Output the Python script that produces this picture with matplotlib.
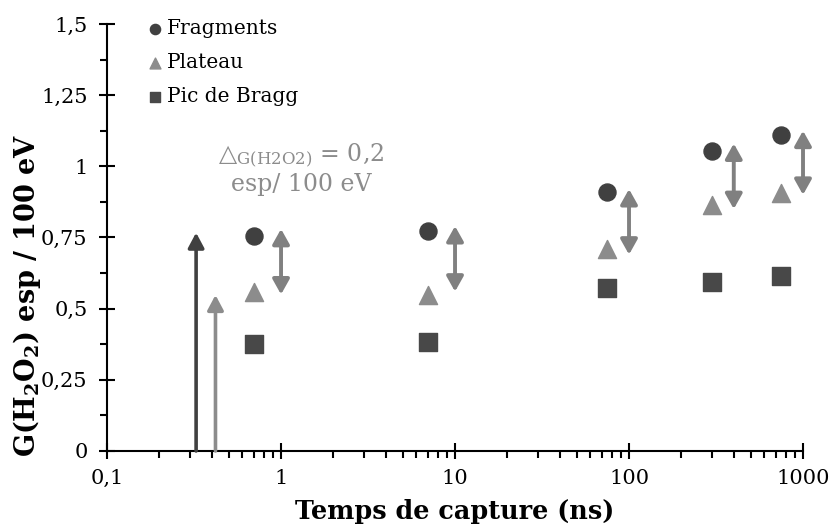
import numpy as np
import matplotlib
matplotlib.use("Agg")
import matplotlib.pyplot as plt
from matplotlib.ticker import FixedLocator, NullFormatter

plt.rcParams['font.family'] = ['DejaVu Serif', 'DejaVu Sans']
plt.rcParams['mathtext.fontset'] = 'dejavuserif'

# data
capture_ns = [0.7, 7, 75, 300, 750]
fragments = [0.755, 0.774, 0.911, 1.055, 1.11]
plateau = [0.557, 0.548, 0.708, 0.863, 0.907]
bragg = [0.375, 0.384, 0.574, 0.594, 0.615]

# double arrows (delta = 0.2 esp / 100 eV)
delta_x = [1, 10, 100, 400, 1000]
delta_low = [0.55, 0.56, 0.69, 0.85, 0.90]
delta_high = [0.78, 0.79, 0.92, 1.08, 1.125]

# single arrows near the y axis
vert_x = [0.325, 0.42]
vert_top = [0.767, 0.548]
vert_col = ['#404040', '#8c8c8c']

y_ticks = [0, 0.25, 0.5, 0.75, 1, 1.25, 1.5]
y_labels = ['0', '0,25', '0,5', '0,75', '1', '1,25', '1,5']
x_ticks = [0.1, 1, 10, 100, 1000]
x_labels = ['0,1', '1', '10', '100', '1000']

fig = plt.figure(figsize=(8.33, 5.31), dpi=100)
ax = fig.add_axes([0.1285, 0.1507, 0.8355, 0.8041])

ax.set_xscale('log')
ax.set_xlim(0.1, 1000)
ax.set_ylim(0, 1.5)

ax.scatter(capture_ns, fragments, marker='o', s=150, color='#404040', label='Fragments', zorder=3)
ax.scatter(capture_ns, plateau, marker='^', s=170, color='#8c8c8c', label='Plateau', zorder=3)
ax.scatter(capture_ns, bragg, marker='s', s=160, color='#484848', label='Pic de Bragg', zorder=3)

for x, lo, hi in zip(delta_x, delta_low, delta_high):
    ax.annotate('', xy=(x, hi), xytext=(x, lo),
                arrowprops=dict(arrowstyle='<|-|>,head_length=0.75,head_width=0.42',
                                lw=2.8, color='#808080', shrinkA=0, shrinkB=0,
                                mutation_scale=12))

for x, top, c in zip(vert_x, vert_top, vert_col):
    ax.annotate('', xy=(x, top), xytext=(x, 0),
                arrowprops=dict(arrowstyle='-|>,head_length=0.75,head_width=0.4',
                                lw=2.6, color=c, shrinkA=0, shrinkB=0,
                                mutation_scale=12))

ax.text(1.3, 0.99, '△$_{\\mathregular{G(H2O2)}}$ = 0,2\nesp/ 100 eV', ha='center', va='center',
        fontsize=17, color='#8c8c8c', linespacing=1.15)

ax.spines['top'].set_visible(False)
ax.spines['right'].set_visible(False)
ax.spines['left'].set_linewidth(1.5)
ax.spines['bottom'].set_linewidth(1.5)

ax.yaxis.set_major_locator(FixedLocator(y_ticks))
ax.set_yticklabels(y_labels)
ax.yaxis.set_minor_locator(FixedLocator(np.arange(0.125, 1.5, 0.25)))
ax.xaxis.set_major_locator(FixedLocator(x_ticks))
ax.set_xticklabels(x_labels)
minor_x = [m * d for d in [0.1, 1, 10, 100] for m in range(2, 10)]
ax.xaxis.set_minor_locator(FixedLocator(minor_x))
ax.xaxis.set_minor_formatter(NullFormatter())

ax.tick_params(axis='both', which='major', direction='inout', length=12, width=1.5,
               labelsize=15, pad=8)
ax.tick_params(axis='both', which='minor', direction='out', length=5, width=1.5)
ax.tick_params(axis='x', which='major', pad=7)

ax.set_xlabel('Temps de capture (ns)', fontsize=18.4, fontweight='bold', labelpad=8)
ax.set_ylabel('G(H$_\\mathbf{2}$O$_\\mathbf{2}$) esp / 100 eV', fontsize=19.5, fontweight='bold')
ax.yaxis.label.set_va('center')
ax.yaxis.set_label_coords(-0.115, 0.365)

ax.legend(loc='upper left', bbox_to_anchor=(0.04, 1.03), frameon=False, fontsize=14.5,
          handletextpad=0.0, labelspacing=0.75, borderaxespad=0, handlelength=1.2,
          scatterpoints=1, markerscale=0.6)

fig.savefig('out.png', dpi=100)
